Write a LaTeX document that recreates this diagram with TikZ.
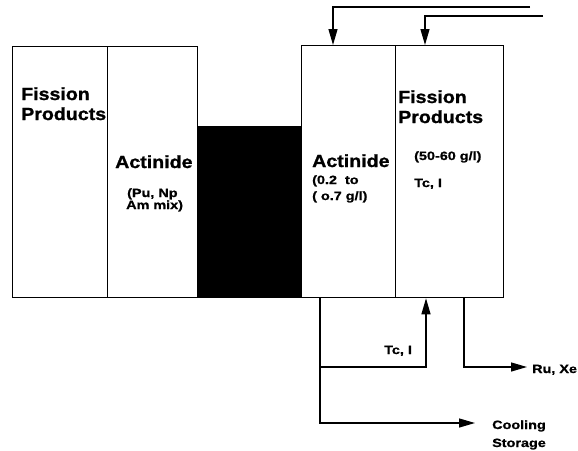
\documentclass[tikz,border=0pt]{standalone}
\usepackage{fontspec}
\setmainfont{Liberation Sans}
\newfontfamily\bigfont{Liberation Sans}[FakeStretch=1.12, FakeBold=1.2]
\newfontfamily\smallfont{Liberation Sans}[FakeStretch=1.2, FakeBold=1]
\usetikzlibrary{arrows.meta}

\tikzset{
  tank/.style={draw, line width=1.3pt, anchor=north west, inner sep=0pt},
  flow/.style={line width=1.3pt},
  flowto/.style={flow, -{Triangle[length=16pt,width=9pt]}},
  big/.style={font=\bigfont\bfseries\fontsize{17.5}{20}\selectfont, anchor=base west, inner sep=0pt, align=left},
  small/.style={font=\smallfont\bfseries\fontsize{12}{12}\selectfont, anchor=base west, inner sep=0pt, align=left}
}

\begin{document}
\begin{tikzpicture}[x=1pt, y=-1pt]
\useasboundingbox (0,0) rectangle (578,450);

% tanks
\node[tank, minimum width=95pt, minimum height=251pt] (fpLeft) at (12,46) {};
\node[tank, minimum width=90pt, minimum height=251pt] (actLeft) at (107,46) {};
\node[tank, fill=black, minimum width=104pt, minimum height=171pt] (barrier) at (197,126) {};
\node[tank, minimum width=94pt, minimum height=252pt] (actRight) at (301,45) {};
\node[tank, minimum width=108pt, minimum height=252pt] (fpRight) at (395,45) {};

% tank labels (anchored on the last line)
\node[big] (fpLeftText) at (21,120) {Fission\\Products};
\node[big] (actLeftText) at (115,168) {Actinide};
\node[small] (actLeftMix) at (126,209) {\hspace{1pt}(Pu, Np\\Am mix)};
\node[big] (actRightText) at (312,167) {Actinide};
\node[small] (actRightConc) at (312,200) {(0.2\ \ to\\[4pt]( o.7 g/l)};
\node[big] (fpRightText) at (398,123) {Fission\\Products};
\node[small] (fpRightConc) at (414,160) {(50-60 g/l)};
\node[small] (fpRightTc) at (414,187) {Tc, I};

% feeds
\coordinate (feedA) at (530,7);
\coordinate (feedB) at (543,16);
\draw[flowto] (feedA) -| ([xshift=32pt]actRight.north west);
\draw[flowto] (feedB) -| ([xshift=30pt]fpRight.north west);

% outlets
\coordinate (split) at (320,367);
\coordinate (coolEnd) at (475,423);
\coordinate (ruEnd) at (527,367);
\draw[flow] ([xshift=19pt]actRight.south west) -- (split);
\draw[flowto] (split) -- (426,367) -- ([xshift=31pt]fpRight.south west);
\draw[flowto] (split) |- (coolEnd);
\draw[flowto] ([xshift=69pt]fpRight.south west) |- (ruEnd);

% outlet labels
\node[small] (tcLabel) at (384,354) {Tc, I};
\node[small] (ruLabel) at (532,373) {Ru, Xe};
\node[small] (coolLabel) at (492,447) {Cooling\\[6pt]Storage};

\end{tikzpicture}
\end{document}
